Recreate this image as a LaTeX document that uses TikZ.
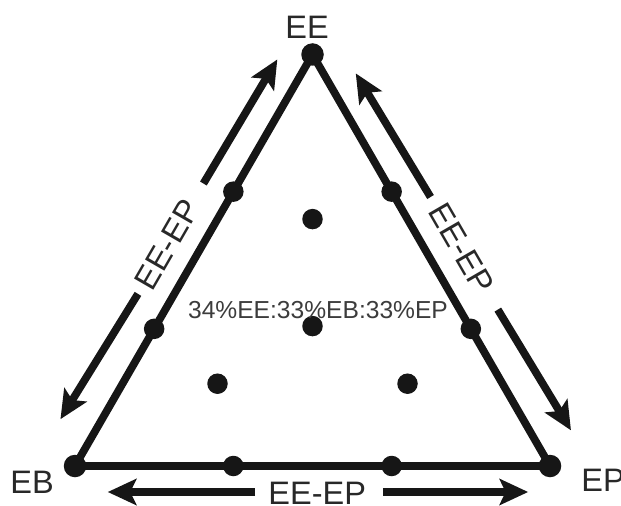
\documentclass[tikz,border=0pt]{standalone}
\usepackage{fontspec}
\setmainfont{Liberation Sans}
\usetikzlibrary{arrows.meta,calc,positioning}
\definecolor{triBlack}{RGB}{22,22,22}
\definecolor{triText} {RGB}{40,40,40}
\definecolor{triGray} {RGB}{60,60,60}

\tikzset{
  vdot/.style={circle,fill=triBlack,inner sep=0pt,minimum size=0.45cm},
  pdot/.style={circle,fill=triBlack,inner sep=0pt,minimum size=0.41cm},
  lado/.style={triBlack,line width=4.4pt,line join=round},
  seta/.style={-{Stealth[length=0.57cm,width=0.52cm,inset=0.12cm]},triBlack,line width=4.4pt},
  rotulo/.style={font=\fontsize{18.5}{20}\selectfont,triText,inner sep=2pt}
}

\begin{document}
\begin{tikzpicture}
        \useasboundingbox (0,0) rectangle (12.42,10.1);
        % Vertices
        \node[vdot] (EE) at (6.25,9.01) {};
        \node[vdot] (EB) at (1.50,0.78) {};
        \node[vdot] (EP) at (11.00,0.78) {};
        % Lados
        \draw[lado] (EE.center) -- (EB.center) -- (EP.center) -- cycle;
        % Pontos nos lados
        \node[pdot] (L1) at ($(EE)!0.3333!(EB)$) {};
        \node[pdot] (L2) at ($(EE)!0.6667!(EB)$) {};
        \node[pdot] (R1) at ($(EE)!0.3333!(EP)$) {};
        \node[pdot] (R2) at ($(EE)!0.6667!(EP)$) {};
        \node[pdot] (B1) at ($(EB)!0.3333!(EP)$) {};
        \node[pdot] (B2) at ($(EB)!0.6667!(EP)$) {};
        % Pontos internos
        \node[pdot] (C1) at (barycentric cs:EE=0.6,EB=0.2,EP=0.2) {};
        \node[pdot] (C2) at (barycentric cs:EE=0.34,EB=0.33,EP=0.33) {};
        \node[pdot] (C3) at (barycentric cs:EE=0.2,EB=0.6,EP=0.2) {};
        \node[pdot] (C4) at (barycentric cs:EE=0.2,EB=0.2,EP=0.6) {};
        % Rotulos
        \node[rotulo] (tEE) at (6.14,9.56) {EE};
        \node[rotulo] (tEB) at (0.64,0.46) {EB};
        \node[rotulo] (tEP) at (12.06,0.50) {EP};
        \node[font=\fontsize{14}{16}\selectfont,triGray] (mix) at (6.36,3.90)
          {34\%EE:33\%EB:33\%EP};
        \node[rotulo,rotate=60]  (tL) at ($(EE)!0.50!(EB)+(150:0.62)$) {EE-EP};
        \node[rotulo,rotate=-60] (tR) at ($(EE)!0.51!(EP)+(30:0.65)$) {EE-EP};
        \node[rotulo]            (tB) at ($(EB)!0.51!(EP)+(270:0.54)$) {EE-EP};
        % Setas
        \coordinate (sL1) at ($(EE)!0.350!(EB)+(150:0.60)$);
        \coordinate (pL1) at ($(EE)!0.046!(EB)+(150:0.56)$);
        \coordinate (sL2) at ($(EE)!0.620!(EB)+(150:0.63)$);
        \coordinate (pL2) at ($(EE)!0.930!(EB)+(150:0.72)$);
        \coordinate (sR1) at ($(EE)!0.384!(EP)+(30:0.62)$);
        \coordinate (pR1) at ($(EE)!0.080!(EP)+(30:0.56)$);
        \coordinate (sR2) at ($(EE)!0.660!(EP)+(30:0.66)$);
        \coordinate (pR2) at ($(EE)!0.957!(EP)+(30:0.72)$);
        \coordinate (sB1) at ($(EB)!0.379!(EP)+(270:0.52)$);
        \coordinate (pB1) at ($(EB)!0.069!(EP)+(270:0.52)$);
        \coordinate (sB2) at ($(EB)!0.648!(EP)+(270:0.52)$);
        \coordinate (pB2) at ($(EB)!0.954!(EP)+(270:0.52)$);
        \draw[seta] (sL1) -- (pL1);
        \draw[seta] (sL2) -- (pL2);
        \draw[seta] (sR1) -- (pR1);
        \draw[seta] (sR2) -- (pR2);
        \draw[seta] (sB1) -- (pB1);
        \draw[seta] (sB2) -- (pB2);
      \end{tikzpicture}
\end{document}
